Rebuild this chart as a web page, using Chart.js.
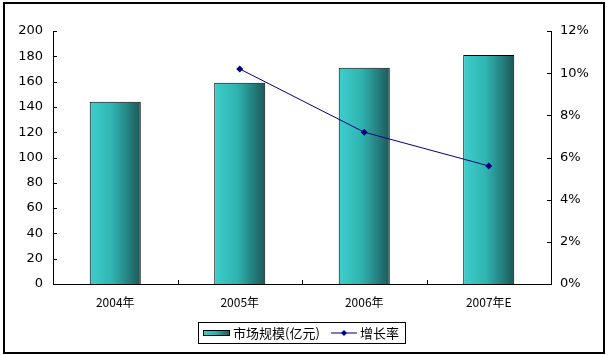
<!DOCTYPE html>
<html>
<head>
<meta charset="utf-8">
<script src="https://cdn.jsdelivr.net/npm/chart.js@4/dist/chart.umd.min.js"></script>
<style>
html,body{margin:0;padding:0;background:#fff;}
#wrap{position:relative;width:608px;height:355px;}
canvas{display:block;}
</style>
</head>
<body>
<div id="wrap"><canvas id="c" width="608" height="355"></canvas></div>
<script>
const categories = ['2004年', '2005年', '2006年', '2007年E'];
const marketSize = [144, 159, 171, 181];
const growthRate = [null, 10.2, 7.2, 5.6];
const leftTicks = [0, 20, 40, 60, 80, 100, 120, 140, 160, 180, 200];
const rightTicks = [0, 2, 4, 6, 8, 10, 12];
const seriesNames = ['市场规模(亿元)', '增长率'];

const tickFont = {family: 'DejaVu Sans', size: 13};
const catFont = {family: 'Noto Sans CJK SC', size: 12};

function barGradient(ctx, x0, x1) {
  const g = ctx.createLinearGradient(x0, 0, x1, 0);
  g.addColorStop(0, '#3dcfcc');
  g.addColorStop(0.45, '#2fb3b1');
  g.addColorStop(1, '#1c5857');
  return g;
}

const gradientPlugin = {
  id: 'gradBars',
  beforeDatasetsDraw(chart) {
    const meta = chart.getDatasetMeta(1);
    meta.data.forEach(el => {
      const p = el.getProps(['x', 'width'], true);
      const opts = Object.assign({}, el.options);
      opts.backgroundColor = barGradient(chart.ctx, p.x - p.width / 2, p.x + p.width / 2);
      el.options = opts;
    });
  }
};

const decorPlugin = {
  id: 'decor',
  afterDraw(chart) {
    const ctx = chart.ctx;
    const ca = chart.chartArea;
    const ys = chart.scales.y, y1 = chart.scales.y1, xs = chart.scales.x;
    ctx.save();
    ctx.strokeStyle = '#000';
    ctx.lineWidth = 1;
    ctx.beginPath();
    leftTicks.forEach(v => {
      const py = Math.round(ys.getPixelForValue(v)) + 0.5;
      ctx.moveTo(ca.left, py); ctx.lineTo(ca.left + 4, py);
    });
    rightTicks.forEach(v => {
      const py = Math.round(y1.getPixelForValue(v)) + 0.5;
      ctx.moveTo(ca.right - 4, py); ctx.lineTo(ca.right, py);
    });
    for (let i = 1; i < categories.length; i++) {
      const px = Math.round((xs.getPixelForValue(i - 1) + xs.getPixelForValue(i)) / 2) + 0.5;
      ctx.moveTo(px, ca.bottom); ctx.lineTo(px, ca.bottom - 4);
    }
    ctx.stroke();

    // outer border
    ctx.lineWidth = 2;
    ctx.strokeRect(4, 3, 600, 350);

    // legend
    const lx = 198.5, ly = 322.5, lw = 207, lh = 21;
    ctx.lineWidth = 1;
    ctx.strokeRect(lx, ly, lw, lh);
    const cy = ly + lh / 2;
    ctx.fillStyle = barGradient(ctx, 203, 230);
    ctx.fillRect(203, cy - 2.5, 27, 5);
    ctx.strokeRect(203.5, cy - 2.5, 26, 5);
    ctx.fillStyle = '#000';
    ctx.font = '13px "Noto Sans CJK SC"';
    ctx.textBaseline = 'middle';
    ctx.textAlign = 'left';
    ctx.fillText(seriesNames[0], 233, cy);
    ctx.strokeStyle = '#000080';
    ctx.beginPath();
    ctx.moveTo(331, cy); ctx.lineTo(357, cy);
    ctx.stroke();
    ctx.fillStyle = '#000080';
    ctx.beginPath();
    ctx.moveTo(344, cy - 3); ctx.lineTo(347, cy); ctx.lineTo(344, cy + 3); ctx.lineTo(341, cy);
    ctx.closePath(); ctx.fill();
    ctx.fillStyle = '#000';
    ctx.fillText(seriesNames[1], 360, cy);
    ctx.restore();
  }
};

new Chart(document.getElementById('c'), {
  data: {
    labels: categories,
    datasets: [
      {
        type: 'line',
        label: seriesNames[1],
        data: growthRate,
        yAxisID: 'y1',
        borderColor: '#000080',
        backgroundColor: '#000080',
        borderWidth: 1,
        pointStyle: 'rectRot',
        pointRadius: 3.5,
        pointBorderWidth: 0,
        spanGaps: false,
        order: 0
      },
      {
        type: 'bar',
        label: seriesNames[0],
        data: marketSize,
        yAxisID: 'y',
        backgroundColor: () => '#2fb3b1',
        borderColor: '#000',
        borderWidth: 1,
        categoryPercentage: 0.82,
        barPercentage: 0.5,
        order: 1
      }
    ]
  },
  options: {
    responsive: false,
    animation: false,
    devicePixelRatio: 1,
    layout: {padding: {top: 31, left: 0, right: 0, bottom: 0}},
    plugins: {legend: {display: false}, tooltip: {enabled: false}},
    scales: {
      x: {
        grid: {display: false, drawTicks: false},
        border: {color: '#000', width: 1},
        ticks: {color: '#000', font: catFont, padding: 11, maxRotation: 0},
        afterFit(s) { s.height = 71; }
      },
      y: {
        position: 'left',
        min: 0, max: 200,
        afterBuildTicks(s) { s.ticks = leftTicks.map(v => ({value: v})); },
        grid: {display: false, drawTicks: false},
        border: {color: '#000', width: 1},
        ticks: {color: '#000', font: tickFont, padding: 10},
        afterFit(s) { s.width = 53; }
      },
      y1: {
        position: 'right',
        min: 0, max: 12,
        afterBuildTicks(s) { s.ticks = rightTicks.map(v => ({value: v})); },
        grid: {display: false, drawTicks: false},
        border: {color: '#000', width: 1},
        ticks: {color: '#000', font: tickFont, padding: 9, callback: v => v + '%'},
        afterFit(s) { s.width = 57; }
      }
    }
  },
  plugins: [gradientPlugin, decorPlugin]
});
</script>
</body>
</html>
